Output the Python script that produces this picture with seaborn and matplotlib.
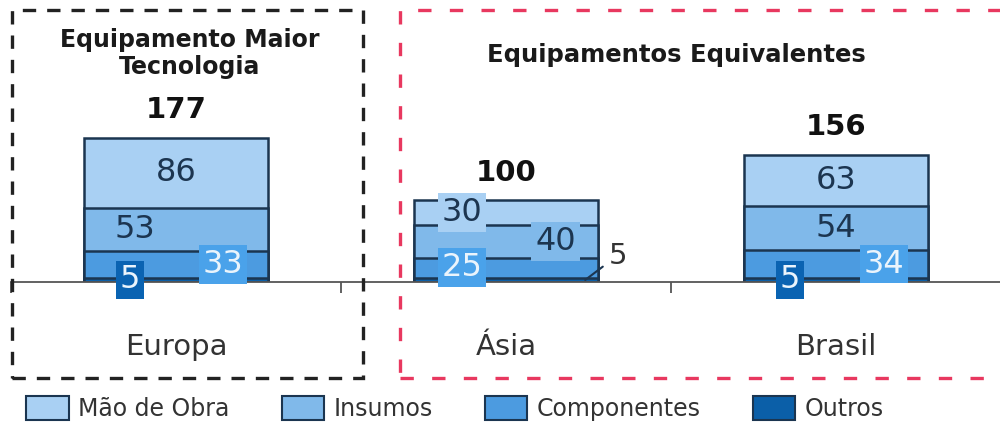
import numpy as np
import pandas as pd
import matplotlib
matplotlib.use("Agg")
import matplotlib.pyplot as plt
from matplotlib.patches import Rectangle, Patch
import seaborn as sns

# ---------------- data ----------------
categories = ["Europa", "Ásia", "Brasil"]
mao_de_obra = [86, 30, 63]
insumos = [53, 40, 54]
componentes = [33, 25, 34]
outros = [5, 5, 5]
series_names = ["Mão de Obra", "Insumos", "Componentes", "Outros"]

# ---------------- styles ----------------
sns.set_style("white")
plt.rcParams["font.family"] = ["DejaVu Sans"]

colors = {
    "Mão de Obra": "#a9d0f3",
    "Insumos": "#80b9ea",
    "Componentes": "#4c9be0",
    "Outros": "#0b5fa8",
}
label_box = {
    "Componentes": "#4aa2ea",
    "Outros": "#0a63b2",
}
edge = "#1b3550"
navy_txt = "#1c3550"

# label x-offsets (category units) per series, per category (layout only)
label_dx = {
    "Mão de Obra": [0.0, -0.133, 0.0],
    "Insumos": [-0.124, 0.15, 0.0],
    "Componentes": [0.142, -0.133, 0.145],
    "Outros": [-0.14, None, -0.14],
}
# which labels get a background box
boxed = {
    "Mão de Obra": [False, True, False],
    "Insumos": [False, True, False],
    "Componentes": [True, True, True],
    "Outros": [True, False, True],
}

df = pd.DataFrame({
    "categoria": categories,
    "Mão de Obra": mao_de_obra,
    "Insumos": insumos,
    "Componentes": componentes,
    "Outros": outros,
})
stack_order = ["Outros", "Componentes", "Insumos", "Mão de Obra"]  # bottom -> top
cum = df[stack_order].cumsum(axis=1)
bottoms = cum - df[stack_order]
totals = cum["Mão de Obra"]

fig = plt.figure(figsize=(10, 4.23), dpi=100)
ax = fig.add_axes([0.011, 141 / 423, 0.989, 282 / 423])

# draw tallest cumulative first, then overlay shorter ones
for name in reversed(stack_order):
    sns.barplot(x=df["categoria"], y=cum[name], color=colors[name], saturation=1,
                width=0.56, edgecolor=edge, linewidth=1.8, errorbar=None,
                order=categories, ax=ax)

ax.set_xlim(-0.5, 2.497)
ax.set_ylim(0, 346)
ax.set_yticks([])
ax.set_xlabel("")
ax.set_ylabel("")
for s in ["left", "top", "right"]:
    ax.spines[s].set_visible(False)
ax.spines["bottom"].set_color("#555555")
ax.spines["bottom"].set_linewidth(1.3)
ax.tick_params(axis="x", which="major", length=0, pad=37, labelsize=21, labelcolor="#333333")
ax.set_xticks([-0.5, 0.5, 1.5], minor=True)
ax.tick_params(axis="x", which="minor", bottom=True, length=8, width=1.3,
               color="#555555", direction="out")

# segment labels
for i, cat in enumerate(categories):
    for name in stack_order:
        val = df.loc[i, name]
        mid = bottoms.loc[i, name] + val / 2
        dx = label_dx[name][i]
        if dx is None:
            ax.annotate(str(val), xy=(i + 0.24, mid), xytext=(i + 0.31, mid + 30),
                        ha="left", va="center", fontsize=21, color="#333333",
                        arrowprops=dict(arrowstyle="-", color=navy_txt, lw=1.5,
                                        shrinkA=2, shrinkB=0))
            continue
        white = name in ("Componentes", "Outros")
        kw = {}
        if boxed[name][i]:
            fc = label_box.get(name, colors[name])
            kw["bbox"] = dict(boxstyle="square,pad=0.12", fc=fc, ec="none")
        ax.text(i + dx, mid, str(val), ha="center", va="center", fontsize=23,
                color="#eaf4fc" if white else navy_txt, zorder=5, **kw)
    ax.annotate(str(totals[i]), xy=(i, totals[i]), xytext=(0, 20),
                textcoords="offset points", ha="center", va="center",
                fontsize=21, fontweight="bold", color="#111111")

# group titles
fig.text(0.19, 0.874, "Equipamento Maior\nTecnologia", ha="center", va="center",
         fontsize=17, fontweight="bold", color="#1a1a1a", linespacing=1.15)
fig.text(0.676, 0.870, "Equipamentos Equivalentes", ha="center", va="center",
         fontsize=17.5, fontweight="bold", color="#1a1a1a")

# dashed group frames
fig.add_artist(Rectangle((0.012, 45 / 423), 0.351, 368 / 423, transform=fig.transFigure,
                         fill=False, edgecolor="#222222", lw=2.4,
                         linestyle=(0, (4.0, 3.3))))
fig.add_artist(Rectangle((0.400, 45 / 423), 0.61, 368 / 423, transform=fig.transFigure,
                         fill=False, edgecolor="#e8385f", lw=2.4,
                         linestyle=(0, (4.0, 5.5))))

# legend
handles = [Patch(facecolor=colors[n], edgecolor=edge, lw=1.5) for n in series_names]
fig.legend(handles, series_names, loc="center", bbox_to_anchor=(0.455, 0.035), ncol=4,
           frameon=False, fontsize=17, handlelength=1.8, handleheight=1.2,
           handletextpad=0.4, columnspacing=2.2, labelcolor="#333333")

fig.savefig("out.png", dpi=100)
